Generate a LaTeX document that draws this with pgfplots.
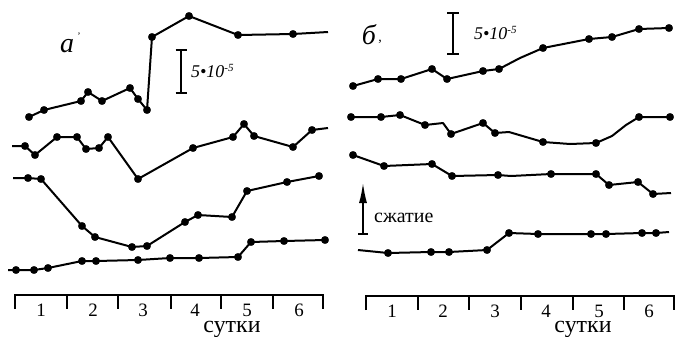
\documentclass[border=0pt]{standalone}
\usepackage{pgfplots}
\pgfplotsset{compat=1.18}
\usepackage{fontspec}
\setmainfont{Liberation Serif}
\usetikzlibrary{arrows.meta}
\begin{document}
\begin{tikzpicture}
\begin{axis}[
  x=1bp, y=1bp, y dir=reverse,
  xmin=0, xmax=676, ymin=0, ymax=336,
  hide axis, clip=false, enlargelimits=false,
  cycle list={{black, no markers}},
  ln/.style={black, no markers, line width=2bp, line join=round},
  thin/.style={black, no markers, line width=1.5bp},
  dot/.style={black, only marks, mark=*, mark size=3.8bp, mark options={fill=black, draw=black, line width=0.2bp}},
]
\coordinate (tl) at (axis cs:0,0);
\coordinate (br) at (axis cs:676,336);
% ---------------- panel a ----------------
% curve a1
\addplot[ln] coordinates {(29,117)(44,110)(81,101)(88,92)(102,101)(130,88)(138,99)(147,110)(152,37)(189,16)(238,35)(293,34)(328,32)};
\addplot[dot] coordinates {(29,117)(44,110)(81,101)(88,92)(102,101)(130,88)(138,99)(147,110)(152,37)(189,16)(238,35)(293,34)};
% curve a2
\addplot[ln] coordinates {(12,146)(25,146)(35,155)(57,137)(77,137)(86,149)(99,148)(108,137)(138,179)(193,148)(233,137)(244,124)(254,136)(293,147)(312,130)(328,128)};
\addplot[dot] coordinates {(25,146)(35,155)(57,137)(77,137)(86,149)(99,148)(108,137)(138,179)(193,148)(233,137)(244,124)(254,136)(293,147)(312,130)};
% curve a3
\addplot[ln] coordinates {(13,178)(28,178)(41,179)(82,226)(95,237)(132,247)(147,246)(185,222)(198,215)(232,217)(247,191)(287,182)(319,176)};
\addplot[dot] coordinates {(28,178)(41,179)(82,226)(95,237)(132,247)(147,246)(185,222)(198,215)(232,217)(247,191)(287,182)(319,176)};
% curve a4
\addplot[ln] coordinates {(8,270)(16,270)(34,270)(48,268)(82,261)(96,261)(138,260)(170,258)(199,258)(238,257)(251,242)(284,241)(325,240)};
\addplot[dot] coordinates {(16,270)(34,270)(48,268)(82,261)(96,261)(138,260)(170,258)(199,258)(238,257)(251,242)(284,241)(325,240)};
% scale bar a
\addplot[thin] coordinates {(181,50)(181,93)};
\addplot[thin] coordinates {(175.5,50)(186.5,50)};
\addplot[thin] coordinates {(175.5,93)(186.5,93)};
% day axis a
\addplot[thin] coordinates {(15,309)(15,295)(323,295)(323,309)};
\addplot[thin] coordinates {(67,295)(67,309)};
\addplot[thin] coordinates {(118,295)(118,309)};
\addplot[thin] coordinates {(171,295)(171,309)};
\addplot[thin] coordinates {(221,295)(221,309)};
\addplot[thin] coordinates {(273,295)(273,309)};
% ---------------- panel b ----------------
% curve b1
\addplot[ln] coordinates {(353,86)(378,79)(401,79)(432,69)(447,79)(483,71)(499,69)(520,58)(543,48)(589,39)(612,37)(639,29)(669,28)};
\addplot[dot] coordinates {(353,86)(378,79)(401,79)(432,69)(447,79)(483,71)(499,69)(543,48)(589,39)(612,37)(639,29)(669,28)};
% curve b2
\addplot[ln] coordinates {(351,117)(381,117)(400,115)(425,125)(443,123)(451,134)(483,123)(495,133)(509,132)(543,142)(570,144)(596,143)(612,136)(626,125)(639,117)(670,117)};
\addplot[dot] coordinates {(351,117)(381,117)(400,115)(425,125)(451,134)(483,123)(495,133)(543,142)(596,143)(639,117)(670,117)};
% curve b3
\addplot[ln] coordinates {(353,155)(384,166)(432,164)(452,176)(498,175)(511,176)(551,174)(596,174)(609,185)(638,182)(653,194)(671,193)};
\addplot[dot] coordinates {(353,155)(384,166)(432,164)(452,176)(498,175)(551,174)(596,174)(609,185)(638,182)(653,194)};
% curve b4
\addplot[ln] coordinates {(358,250)(388,253)(431,252)(449,252)(487,250)(509,233)(538,234)(591,234)(606,234)(642,233)(656,233)(669,232)};
\addplot[dot] coordinates {(388,253)(431,252)(449,252)(487,250)(509,233)(538,234)(591,234)(606,234)(642,233)(656,233)};
% scale bar b
\addplot[thin] coordinates {(453,13)(453,54)};
\addplot[thin] coordinates {(447,13)(459,13)};
\addplot[thin] coordinates {(447,54)(459,54)};
% compression arrow
\addplot[thin, -{Latex[length=20bp,width=8bp]}] coordinates {(363,234)(363,183)};
\addplot[thin] coordinates {(358,234)(368,234)};
% day axis b
\addplot[thin] coordinates {(366,310)(366,296)(674,296)(674,310)};
\addplot[thin] coordinates {(418,296)(418,310)};
\addplot[thin] coordinates {(469,296)(469,310)};
\addplot[thin] coordinates {(521,296)(521,310)};
\addplot[thin] coordinates {(573,296)(573,310)};
\addplot[thin] coordinates {(624,296)(624,310)};
% ---------------- texts ----------------
\begin{scope}[every node/.style={inner sep=0pt, font=\fontsize{19}{19}\selectfont}]
\node at (axis cs:41,310) {1};
\node at (axis cs:93,310) {2};
\node at (axis cs:143,310) {3};
\node at (axis cs:195,310) {4};
\node at (axis cs:247,310) {5};
\node at (axis cs:299,310) {6};
\node at (axis cs:392,311) {1};
\node at (axis cs:443,311) {2};
\node at (axis cs:495,311) {3};
\node at (axis cs:546,311) {4};
\node at (axis cs:599,311) {5};
\node at (axis cs:649,311) {6};
\node[anchor=base, font=\fontsize{24}{24}\selectfont] at (axis cs:232,332) {сутки};
\node[anchor=base, font=\fontsize{24}{24}\selectfont] at (axis cs:583,332) {сутки};
\node[anchor=base west, font=\fontsize{18}{18}\selectfont] at (axis cs:191,77) {\textit{5•10}\raisebox{6bp}{\fontsize{11}{11}\selectfont\textit{-5}}};
\node[anchor=base west, font=\fontsize{18}{18}\selectfont] at (axis cs:474,39) {\textit{5•10}\raisebox{6bp}{\fontsize{11}{11}\selectfont\textit{-5}}};
\node[anchor=base west, font=\fontsize{20}{20}\selectfont] at (axis cs:374,222) {сжатие};
\node[anchor=base, font=\fontsize{28}{28}\selectfont\itshape] at (axis cs:67,52) {a};
\node[font=\fontsize{10}{10}\selectfont] at (axis cs:79,36) {'};
\node[anchor=base, font=\fontsize{28}{28}\selectfont\itshape] at (axis cs:369,44) {б};
\node[font=\fontsize{14}{14}\selectfont] at (axis cs:380,42) {,};
\end{scope}
\end{axis}
\pgfresetboundingbox
\useasboundingbox (tl) rectangle (br);
\end{tikzpicture}
\end{document}
